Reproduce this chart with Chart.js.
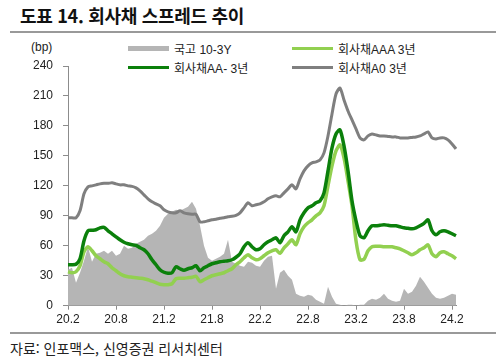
<!doctype html>
<html lang="ko">
<head>
<meta charset="utf-8">
<title>회사채 스프레드 추이</title>
<script src="https://cdn.jsdelivr.net/npm/chart.js@4"></script>
<style>
  body { margin: 0; width: 500px; height: 359px; background: #fff; position: relative; overflow: hidden;
         font-family: "Liberation Sans", "Noto Sans CJK KR", sans-serif; color: #222; }
  .title { position: absolute; left: 20px; top: 2px; font: bold 18px "Noto Sans CJK KR", sans-serif; color: #111; letter-spacing: -0.3px; }
  .rule { position: absolute; left: 10px; width: 486px; height: 2px; background: #999; }
  .unit { position: absolute; left: 31px; top: 40px; font-size: 12px; }
  #legend { position: absolute; left: 128px; top: 40px; display: grid; grid-template-columns: 164px 164px; row-gap: 3px; font-size: 12px; }
  #legend div { display: flex; align-items: center; height: 16px; }
  #legend span.sw { display: inline-block; width: 41px; margin-right: 5px; }
  .source { position: absolute; left: 10px; top: 338px; font: 14px "Noto Sans CJK KR", sans-serif; color: #222; }
  #wrap { position: absolute; left: 0; top: 40px; width: 500px; height: 292px; }
</style>
</head>
<body>
<div class="title">도표 14. 회사채 스프레드 추이</div>
<div class="rule" style="top:31px"></div>
<div class="unit">(bp)</div>
<div id="legend"></div>
<div id="wrap"><canvas id="chart"></canvas></div>
<div class="rule" style="top:332px"></div>
<div class="source">자료: 인포맥스, 신영증권 리서치센터</div>

<script>
// half-month periods from 2020.2 to 2024.2
var periods = [];
for (var i = 0; i < 98; i++) {
  var t = 1 + Math.floor(i / 2);
  var p = String(20 + Math.floor(t / 12)) + '.' + (t % 12 + 1);
  periods.push(i % 2 ? p + 'H' : p);
}
var tickLabels = ['20.2', '20.8', '21.2', '21.8', '22.2', '22.8', '23.2', '23.8', '24.2'];

// 국고 10-3Y (bp)
var ktb103 = [36, 38, 23, 33, 45, 59, 44, 52, 53, 55, 52, 55, 50, 52, 60, 57, 58, 62, 64, 66,
  70, 72, 75, 80, 88, 92, 94, 96, 95, 97, 99, 104, 97, 80, 60, 48, 45, 47, 49, 52,
  66, 44, 42, 40, 39, 44, 43, 40, 39, 45, 49, 50, 17, 33, 36, 30, 26, 12, 10, 9,
  11, 10, 6, 4, 2, 19, 9, 2, 1, 0, 1, 1, 0, 1, 1, 5, 7, 6, 8, 12,
  7, 5, 4, 5, 17, 12, 14, 20, 29, 24, 18, 12, 8, 7, 8, 10, 12, 11];

// 회사채AAA 3년
var aaa = [34, 33, 34, 40, 54, 59, 55, 50, 47, 44, 42, 38, 35, 32, 30, 29, 28.5, 28, 27.5, 27,
  26, 24.5, 23, 21.5, 21, 21, 22, 27, 27.5, 27.5, 28, 28.5, 29.5, 24, 26, 28, 30, 31, 32, 33,
  35, 37, 41, 44, 48, 51, 48, 46, 47, 50, 53, 55, 56, 52.5, 58, 62, 66, 61, 72, 79,
  83, 86, 90, 93, 100, 120, 140, 155, 161, 148, 125, 100, 65, 46, 46.5, 55, 59, 59.5, 59.5, 59,
  59, 59, 58, 57, 55, 53, 51, 53, 56, 58, 61, 52, 49, 53, 54, 52, 50, 47];

// 회사채AA- 3년
var aaMinus = [41, 41, 41.5, 47, 65, 75, 75.5, 76, 78, 78.5, 75, 72, 69, 66, 63.5, 62, 61, 60.5, 58, 56,
  52, 46, 41, 36, 33.5, 32.5, 33, 39, 37, 35.5, 37, 38, 40, 35, 38, 40, 42, 43, 44, 44.5,
  45, 46, 48.5, 52, 59, 63, 59, 56, 57, 61, 64, 66, 68, 63, 70, 74, 79, 74, 86, 93,
  98, 100, 103, 105, 113, 135, 158, 172, 176, 160, 135, 105, 85, 70, 68, 75, 80, 80, 80.5, 81,
  80.5, 80, 80, 79, 78, 77.5, 77, 78, 80, 82.5, 86, 75, 71, 74, 75, 74, 72, 70];

// 회사채A0 3년
var a0 = [88, 88, 88, 95, 112, 119, 120, 121, 122, 122.5, 122.5, 123, 122, 121, 121, 120, 119.5, 118, 115, 111,
  107, 104, 102, 100, 96, 94, 93, 93, 95, 93, 92, 91.5, 91.5, 84, 84, 85, 86, 86.5, 87.5, 88,
  89, 89.5, 90.5, 93, 98, 103, 100, 101, 102, 104, 107, 109, 110, 109, 113, 117, 121, 117, 127, 135,
  140, 143, 144, 146, 153, 170, 192, 212, 218, 206, 195, 186, 177, 168, 166, 170, 172, 171, 170, 170,
  169.5, 169, 169, 168, 168, 168, 168.5, 169, 170, 172, 174, 168, 167, 168, 168, 166, 162, 157];

var datasets = [
  { label: '국고 10-3Y', data: ktb103, fill: 'origin', backgroundColor: '#b5b5b5', borderWidth: 0,
    pointRadius: 0, tension: 0, order: 4, swatch: 5 },
  { label: '회사채AAA 3년', data: aaa, borderColor: '#92d050', borderWidth: 3.5, pointRadius: 0,
    tension: 0.25, order: 3, swatch: 3 },
  { label: '회사채AA- 3년', data: aaMinus, borderColor: '#0b800b', borderWidth: 3.5, pointRadius: 0,
    tension: 0.25, order: 2, swatch: 3 },
  { label: '회사채A0 3년', data: a0, borderColor: '#7f7f7f', borderWidth: 3, pointRadius: 0,
    tension: 0.25, order: 1, swatch: 3 }
];

// legend (2 x 2 grid)
var lg = document.getElementById('legend');
datasets.forEach(function (d) {
  var item = document.createElement('div');
  var sw = document.createElement('span');
  sw.className = 'sw';
  sw.style.height = d.swatch + 'px';
  sw.style.background = d.borderColor || d.backgroundColor;
  item.appendChild(sw);
  item.appendChild(document.createTextNode(d.label));
  lg.appendChild(item);
});

var axisColor = '#8c8c8c';
var tickFont = { family: '"Liberation Sans", Arial, sans-serif', size: 12 };

new Chart(document.getElementById('chart'), {
  type: 'line',
  data: { labels: periods, datasets: datasets },
  options: {
    responsive: true,
    maintainAspectRatio: false,
    animation: false,
    layout: { padding: { top: 26, right: 44, left: 0, bottom: 0 } },
    plugins: { legend: { display: false }, tooltip: { enabled: false } },
    scales: {
      x: {
        type: 'category',
        offset: false,
        afterFit: function (s) { s.height = 26.3; },
        border: { display: true, color: axisColor, width: 1 },
        grid: { drawOnChartArea: false, drawTicks: true, tickLength: 4, color: axisColor },
        ticks: {
          autoSkip: false, maxRotation: 0, padding: 3, color: '#222', font: tickFont,
          callback: function (v, i) {
            var l = periods[i];
            return tickLabels.indexOf(l) >= 0 ? l : null;
          }
        }
      },
      y: {
        min: 0, max: 240,
        afterFit: function (s) { s.width = 68; },
        border: { display: true, color: axisColor, width: 1 },
        grid: { drawOnChartArea: false, drawTicks: true, tickLength: 5, color: axisColor },
        ticks: { stepSize: 30, padding: 10, color: '#222', font: tickFont }
      }
    }
  }
});
</script>
</body>
</html>
